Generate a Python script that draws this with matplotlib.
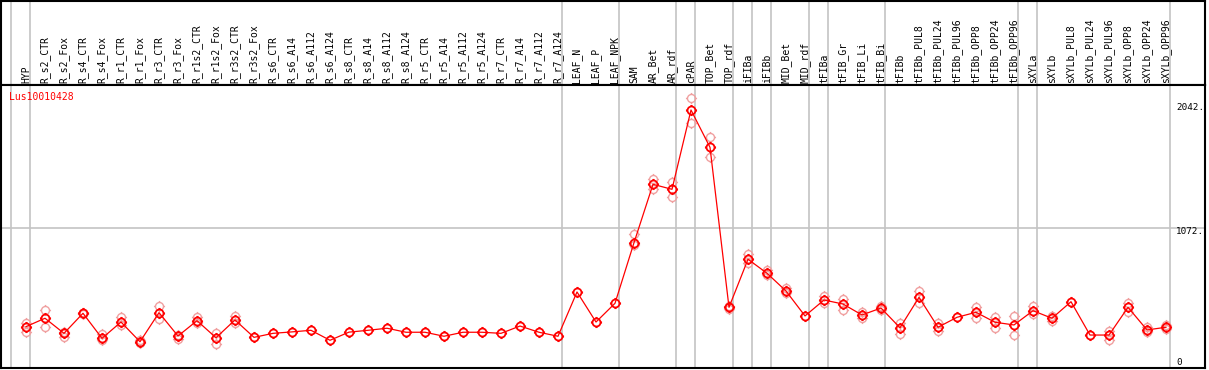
import numpy as np
import matplotlib
matplotlib.use("Agg")
import matplotlib.pyplot as plt
from matplotlib.path import Path

nan = float("nan")

gene_name = "Lus10010428"

categories = [
    "HYP", "R_s2_CTR", "R_s2_Fox", "R_s4_CTR", "R_s4_Fox", "R_r1_CTR", "R_r1_Fox",
    "R_r3_CTR", "R_r3_Fox", "R_r1s2_CTR", "R_r1s2_Fox", "R_r3s2_CTR", "R_r3s2_Fox",
    "R_s6_CTR", "R_s6_A14", "R_s6_A112", "R_s6_A124", "R_s8_CTR", "R_s8_A14",
    "R_s8_A112", "R_s8_A124", "R_r5_CTR", "R_r5_A14", "R_r5_A112", "R_r5_A124",
    "R_r7_CTR", "R_r7_A14", "R_r7_A112", "R_r7_A124", "LEAF_N", "LEAF_P", "LEAF_NPK",
    "SAM", "AR_Bet", "AR_rdf", "cPAR", "TOP_Bet", "TOP_rdf", "iFIBa", "iFIBb",
    "MID_Bet", "MID_rdf", "tFIBa", "tFIB_Gr", "tFIB_Li", "tFIB_Bi", "tFIBb",
    "tFIBb_PUL8", "tFIBb_PUL24", "tFIBb_PUL96", "tFIBb_OPP8", "tFIBb_OPP24",
    "tFIBb_OPP96", "sXYLa", "sXYLb", "sXYLb_PUL8", "sXYLb_PUL24", "sXYLb_PUL96",
    "sXYLb_OPP8", "sXYLb_OPP24", "sXYLb_OPP96",
]

mean_values = [
    261, 330, 206, 371, 165, 299, 137, 376, 184, 310, 170, 316, 173,
    206, 218, 231, 149, 216, 231, 248, 215, 215, 182, 215, 215,
    206, 266, 215, 182, 546, 299, 453,
    951, 1431, 1390, 2042, 1735, 420, 815, 700,
    554, 349, 480, 447, 357, 414, 252,
    502, 256, 338, 379, 297, 275,
    392, 330, 466, 192, 192, 420, 234, 256,
]

rep_high = [
    289, 398, 217, 376, 198, 338, 151, 431, 195, 343, 211, 349, nan,
    nan, nan, nan, nan, nan, nan, nan, nan, nan, nan, nan, nan,
    nan, nan, nan, nan, nan, nan, nan,
    1023, 1472, 1453, 2138, 1818, 430, 856, 727,
    579, nan, 513, 488, 381, 431, 294,
    557, 289, nan, 425, 343, 351,
    431, 351, nan, nan, 228, 458, 256, 275,
]

rep_low = [
    215, 261, 176, 365, 151, 275, 127, 321, 162, 289, 118, 289, nan,
    nan, nan, nan, nan, nan, nan, nan, nan, nan, nan, nan, nan,
    nan, nan, nan, nan, nan, nan, nan,
    932, 1395, 1324, 1933, 1658, 406, 782, 686,
    538, nan, 455, 398, 332, 398, 201,
    453, 228, nan, 330, 252, 192,
    365, 310, nan, nan, 151, 384, 220, 239,
]

# indices after which a group separator is drawn (-1 = before the first)
group_ends = [-1, 0, 28, 31, 34, 35, 37, 38, 39, 41, 42, 45, 52, 53, 60]

axis_ticks = [0, 1072, 2042]
axis_tick_labels = ["0", "1072.", "2042."]
grid_values = [1072]

# ---------------------------------------------------------------------------
W, H = 1209, 370
fig = plt.figure(figsize=(W / 100, H / 100), dpi=100)

def fx(px):
    return px / W

def fy(py):
    return 1 - py / H

left_px, right_px = 1, 1205
top_px, div_px, bot_px = 1, 85, 368

ax_lab = fig.add_axes([fx(left_px), fy(div_px), fx(right_px - left_px), (div_px - top_px) / H])
ax = fig.add_axes([fx(left_px), fy(bot_px), fx(right_px - left_px), (bot_px - div_px) / H])

x0_px, step_px = 26.0, 19.0
xlim = ((left_px - x0_px) / step_px, (right_px - x0_px) / step_px)
y_zero_px, px_per_unit = 358.4, 0.12165
ylim = ((y_zero_px - bot_px) / px_per_unit, (y_zero_px - div_px) / px_per_unit)

for a in (ax_lab, ax):
    a.set_xlim(*xlim)
    a.set_xticks([])
    a.set_yticks([])
    for s in a.spines.values():
        s.set_linewidth(1.5)
        s.set_color("black")
    a.set_facecolor("white")
ax_lab.set_ylim(0, 1)
ax.set_ylim(*ylim)

grey = "#c4c4c4"
for g in group_ends:
    for a in (ax_lab, ax):
        a.axvline(g + 0.23, color=grey, lw=1.2, zorder=0)
for gv in grid_values:
    ax.axhline(gv, color=grey, lw=1.2, zorder=0)

# marker: circle with four small ticks
r = 0.72
circ = Path.circle((0, 0), r)
tick_verts = [(r, 0), (1, 0), (-r, 0), (-1, 0), (0, r), (0, 1), (0, -r), (0, -1)]
tick_codes = [Path.MOVETO, Path.LINETO] * 4
marker_path = Path.make_compound_path(circ, Path(tick_verts, tick_codes))

xs = np.arange(len(categories))
light = "#f0a0a0"
for reps in (rep_high, rep_low):
    ax.plot(xs, reps, linestyle="none", marker=marker_path, markersize=8,
            markerfacecolor="none", markeredgecolor=light, markeredgewidth=1.0, zorder=2)
ax.plot(xs, mean_values, color="#ff0000", lw=0.9, zorder=3)
ax.plot(xs, mean_values, linestyle="none", marker=marker_path, markersize=8,
        markerfacecolor="none", markeredgecolor="#ff0000", markeredgewidth=1.3, zorder=4)

mono = "DejaVu Sans Mono"
for i, c in enumerate(categories):
    ax_lab.annotate(c, xy=(i, 0), xytext=(0, 2), textcoords="offset pixels",
                    rotation=90, ha="center", va="bottom", fontsize=7,
                    family=mono, color="black")

ax.text(fx(9 - left_px) / fx(right_px - left_px), 1 - 12 / (bot_px - div_px), gene_name,
        transform=ax.transAxes, color="#ff0000", fontsize=7, family=mono,
        ha="left", va="center")

offsets = {0: -4, 1072: -4, 2042: 2}
for v, lab in zip(axis_ticks, axis_tick_labels):
    ax.annotate(lab, xy=((1176 - x0_px) / step_px, v), xytext=(0, offsets.get(v, 0)),
                textcoords="offset pixels", ha="left", va="center",
                fontsize=6.7, family=mono, color="black")

fig.savefig("out.png", dpi=100, facecolor="white")
